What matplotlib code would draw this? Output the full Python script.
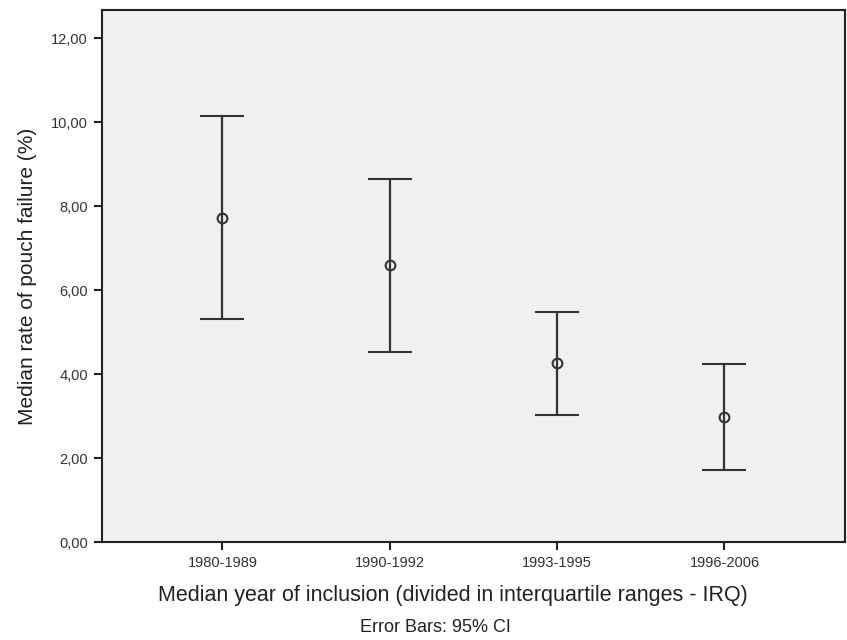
import matplotlib
matplotlib.use("Agg")
import matplotlib.pyplot as plt
from matplotlib.ticker import FuncFormatter

# Values (median rate with 95% CI)
groups = ['1980-1989', '1990-1992', '1993-1995', '1996-2006']
medians = [7.73, 6.60, 4.27, 2.98]
ci_low = [5.31, 4.53, 3.02, 1.72]
ci_high = [10.14, 8.64, 5.49, 4.25]
y_ticks = [0, 2, 4, 6, 8, 10, 12]

plt.rcParams['font.family'] = ['Liberation Sans', 'DejaVu Sans']

fig = plt.figure(figsize=(8.47, 6.4), dpi=100)
ax = fig.add_axes([0.1204, 0.153, 0.8772, 0.831])
ax.set_facecolor('#f0f0f0')

x = list(range(len(groups)))
lower = [m - lo for m, lo in zip(medians, ci_low)]
upper = [hi - m for m, hi in zip(medians, ci_high)]
ax.errorbar(x, medians, yerr=[lower, upper], fmt='o', color='#333333',
            mfc='none', mec='#333333', ms=7, mew=1.5,
            elinewidth=1.6, capsize=15.5, capthick=1.6)

ax.set_xlim(-0.72, 3.72)
ax.set_ylim(0, 12.67)
ax.set_xticks(x)
ax.set_xticklabels(groups)
ax.set_yticks(y_ticks)
ax.yaxis.set_major_formatter(FuncFormatter(lambda v, p: f'{v:.2f}'.replace('.', ',')))

for side in ['left', 'bottom', 'top', 'right']:
    ax.spines[side].set_linewidth(1.5)
    ax.spines[side].set_color('#222222')
ax.tick_params(axis='both', direction='out', length=6, width=1.5, color='#222222',
               labelsize=10.5, labelcolor='#333333', pad=4)

ax.set_ylabel('Median rate of pouch failure (%)', fontsize=15, color='#222222', labelpad=10)
fig.text(0.535, 0.07, 'Median year of inclusion (divided in interquartile ranges - IRQ)',
         ha='center', va='center', fontsize=15.5, color='#222222')
fig.text(0.514, 0.02, 'Error Bars: 95% CI', ha='center', va='center',
         fontsize=13, color='#222222')

fig.savefig('out.png', dpi=100)
